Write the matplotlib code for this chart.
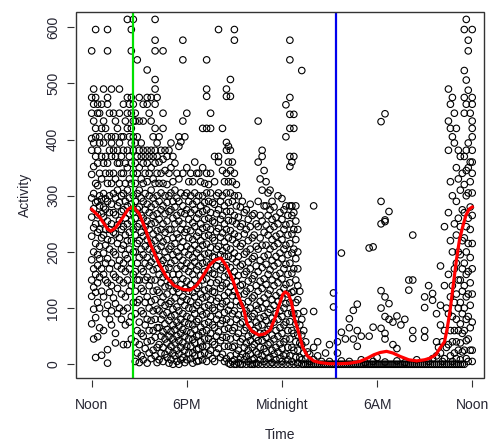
import matplotlib
matplotlib.use("Agg")
import matplotlib.pyplot as plt
from matplotlib.patches import Rectangle

plt.rcParams['font.family'] = ['Liberation Sans', 'DejaVu Sans']

# hours after noon for each column of points, and the activity values read in that column
pm_hours = [0.0, 0.125, 0.25, 0.375, 0.5, 0.625, 0.75, 0.875, 1.0, 1.125, 1.25, 1.375,
            1.5, 1.625, 1.75, 1.875, 2.0, 2.125, 2.25, 2.375, 2.5, 2.625, 2.75, 2.875,
            3.0, 3.125, 3.25, 3.375, 3.5, 3.625, 3.75, 3.875, 4.0, 4.125, 4.25, 4.375,
            4.5, 4.625, 4.75, 4.875, 5.0, 5.125, 5.25, 5.375, 5.5, 5.625, 5.75, 5.875]
pm_activity = [
    [558, 475, 447, 402, 381, 338, 296, 262, 228, 186, 150, 121, 72],
    [490, 463, 433, 394, 352, 304, 277, 243, 200, 170, 137, 98, 45],
    [596, 475, 420, 405, 370, 322, 288, 250, 215, 160, 128, 83, 12],
    [463, 447, 381, 358, 318, 290, 266, 235, 195, 176, 145, 110, 49],
    [447, 405, 394, 340, 300, 282, 240, 210, 188, 155, 100, 65],
    [463, 420, 370, 330, 294, 268, 252, 225, 170, 130, 16],
    [490, 433, 394, 358, 304, 280, 262, 230, 198, 160, 120, 60],
    [420, 370, 340, 295, 276, 240, 212, 180, 150, 90],
    [596, 558, 475, 463, 405, 358, 322, 290, 255, 222, 188, 145, 105, 26, 2],
    [447, 381, 340, 300, 270, 240, 205, 170, 128, 80],
    [490, 405, 394, 370, 322, 285, 250, 220, 180, 140, 95, 70],
    [447, 381, 340, 304, 270, 235, 200, 160, 118],
    [433, 405, 370, 330, 296, 266, 232, 195, 155, 108, 55, 38],
    [420, 381, 358, 310, 282, 248, 215, 175, 135, 90],
    [490, 447, 394, 358, 322, 288, 256, 225, 185, 150, 100],
    [405, 370, 340, 300, 272, 240, 205, 170, 125, 80],
    [463, 405, 381, 340, 304, 275, 245, 212, 180, 145, 95, 35],
    [433, 358, 322, 290, 260, 230, 195, 165, 120, 70],
    [614, 475, 447, 420, 381, 350, 310, 282, 250, 220, 188, 150, 100, 35],
    [463, 405, 370, 330, 296, 268, 235, 205, 170, 130, 75],
    [596, 558, 475, 447, 420, 394, 358, 322, 285, 255, 220, 180, 140, 85, 45],
    [614, 463, 433, 405, 381, 340, 300, 270, 240, 200, 160, 110],
    [447, 433, 394, 358, 322, 290, 260, 230, 200, 165, 130, 90, 40, 5],
    [542, 405, 370, 340, 304, 276, 245, 215, 180, 150, 110, 60, 20],
    [475, 433, 381, 350, 310, 280, 250, 220, 190, 150, 115, 75, 35, 3],
    [394, 370, 330, 296, 265, 235, 205, 170, 135, 95, 55, 15],
    [463, 433, 381, 358, 322, 290, 260, 228, 195, 165, 130, 90, 50, 8],
    [370, 340, 304, 275, 245, 210, 180, 150, 110, 70, 28],
    [524, 475, 463, 381, 358, 325, 285, 255, 222, 190, 155, 120, 80, 40, 2],
    [447, 370, 340, 300, 270, 240, 205, 175, 140, 100, 60, 20],
    [475, 433, 381, 350, 310, 280, 250, 215, 182, 150, 112, 78, 42, 10],
    [405, 370, 330, 296, 265, 232, 200, 168, 130, 95, 60, 25],
    [614, 577, 558, 507, 490, 463, 420, 381, 358, 322, 285, 252, 220, 188, 150, 115, 80, 48, 15],
    [475, 394, 370, 340, 300, 268, 238, 205, 170, 132, 98, 65, 30, 3],
    [405, 360, 322, 290, 258, 225, 192, 160, 128, 95, 65, 35, 8],
    [381, 340, 305, 275, 240, 210, 178, 145, 110, 80, 50, 20],
    [558, 447, 420, 365, 322, 282, 250, 218, 185, 155, 120, 88, 58, 30, 5],
    [381, 345, 300, 268, 235, 200, 170, 138, 105, 72, 45, 18],
    [370, 320, 288, 255, 222, 190, 158, 125, 92, 62, 38, 12],
    [381, 340, 300, 272, 240, 205, 172, 140, 108, 78, 50, 25, 2],
    [394, 350, 305, 275, 240, 210, 180, 145, 112, 85, 58, 32, 8],
    [370, 325, 290, 260, 225, 195, 160, 130, 98, 70, 45, 20, 0],
    [358, 310, 280, 250, 215, 185, 150, 118, 88, 62, 38, 15],
    [340, 296, 265, 232, 200, 170, 135, 102, 75, 50, 25, 5],
    [405, 388, 330, 290, 255, 225, 192, 160, 128, 95, 68, 42, 18, 0],
    [396, 305, 270, 240, 208, 175, 142, 112, 80, 55, 30, 8],
    [577, 542, 433, 340, 282, 250, 218, 185, 152, 120, 90, 62, 38, 12],
    [405, 300, 268, 235, 200, 170, 135, 105, 75, 50, 25, 3],
]

eve_hours = [6.0, 6.125, 6.25, 6.375, 6.5, 6.625, 6.75, 6.875, 7.0, 7.125, 7.25, 7.375,
             7.5, 7.625, 7.75, 7.875, 8.0, 8.125, 8.25, 8.375, 8.5, 8.625, 8.75, 8.875,
             9.0, 9.125, 9.25, 9.375, 9.5, 9.625, 9.75, 9.875, 10.0, 10.125, 10.25, 10.375,
             10.5, 10.625, 10.75, 10.875, 11.0, 11.125, 11.25, 11.375, 11.5, 11.625, 11.75, 11.875]
eve_activity = [
    [447, 350, 305, 275, 240, 210, 180, 148, 115, 85, 58, 32, 8],
    [325, 290, 258, 225, 195, 165, 130, 100, 72, 45, 20],
    [340, 300, 270, 238, 205, 175, 142, 112, 82, 56, 32, 10],
    [325, 285, 252, 222, 190, 160, 128, 98, 70, 44, 20, 2],
    [360, 305, 275, 245, 212, 182, 150, 120, 90, 62, 38, 15],
    [340, 290, 260, 228, 198, 168, 135, 105, 76, 50, 26, 5],
    [340, 300, 268, 235, 205, 175, 140, 110, 80, 52, 28, 6],
    [325, 282, 250, 220, 190, 158, 125, 95, 66, 40, 16],
    [420, 350, 300, 272, 242, 212, 180, 150, 118, 88, 58, 32, 8],
    [322, 288, 258, 228, 196, 165, 132, 102, 72, 45, 20],
    [542, 490, 477, 420, 340, 305, 275, 244, 214, 182, 152, 120, 90, 60, 32, 5],
    [320, 290, 260, 230, 198, 168, 135, 105, 75, 46, 18],
    [447, 420, 340, 305, 270, 240, 208, 178, 145, 115, 85, 55, 25],
    [288, 255, 225, 192, 162, 130, 100, 70, 40, 10],
    [370, 325, 285, 252, 220, 190, 160, 128, 96, 65, 35, 5],
    [300, 268, 236, 205, 175, 145, 112, 80, 50, 20],
    [596, 370, 360, 305, 275, 242, 210, 185, 150, 118, 88, 58, 28],
    [290, 258, 226, 195, 168, 135, 102, 72, 42, 12],
    [420, 345, 300, 265, 234, 202, 172, 140, 108, 78, 48, 18],
    [325, 282, 250, 218, 192, 156, 122, 92, 62, 32, 5],
    [490, 477, 395, 381, 340, 305, 272, 240, 208, 176, 144, 112, 80, 48, 10],
    [388, 360, 325, 288, 256, 225, 192, 160, 128, 96, 64, 32, 2],
    [507, 477, 381, 345, 305, 272, 238, 205, 172, 138, 105, 75, 45, 15, 0],
    [360, 325, 290, 255, 222, 188, 155, 122, 90, 60, 30, 5],
    [596, 577, 340, 300, 265, 232, 198, 165, 130, 95, 65, 32, 8, 0],
    [320, 282, 250, 215, 182, 148, 112, 80, 48, 18, 0],
    [300, 262, 228, 192, 158, 122, 88, 55, 25, 3],
    [280, 245, 210, 175, 140, 105, 72, 40, 12, 0],
    [290, 250, 215, 178, 142, 108, 75, 45, 18, 0],
    [270, 232, 196, 160, 125, 90, 60, 30, 8],
    [275, 240, 200, 165, 130, 95, 65, 38, 14, 0],
    [258, 220, 182, 148, 112, 80, 50, 25, 5],
    [285, 245, 205, 170, 135, 100, 70, 42, 18, 0],
    [265, 225, 188, 152, 118, 85, 55, 30, 8, 0],
    [268, 230, 192, 158, 122, 90, 60, 35, 10, 0],
    [250, 210, 175, 140, 105, 75, 48, 22, 2],
    [433, 360, 290, 245, 205, 165, 130, 98, 68, 42, 18, 0],
    [330, 265, 225, 185, 148, 112, 82, 55, 30, 8],
    [381, 370, 310, 255, 212, 172, 135, 100, 70, 42, 15, 0],
    [345, 282, 235, 192, 152, 118, 85, 55, 28, 5],
    [325, 282, 248, 212, 178, 142, 108, 78, 48, 22, 0],
    [305, 265, 230, 195, 160, 125, 92, 62, 35, 10],
    [310, 275, 240, 205, 168, 132, 98, 68, 38, 12, 0],
    [290, 258, 222, 185, 150, 115, 82, 52, 25, 3],
    [280, 245, 210, 175, 140, 105, 75, 45, 18, 0],
    [262, 228, 192, 158, 122, 90, 60, 30, 8],
    [300, 250, 215, 180, 145, 112, 80, 50, 22, 0],
    [270, 232, 198, 162, 128, 95, 65, 36, 10],
]

night_hours = [12.0, 12.125, 12.25, 12.375, 12.5, 12.625, 12.75, 12.875, 13.0, 13.125, 13.25, 13.375,
               13.5, 13.625, 13.75, 13.875, 14.0, 14.125, 14.25, 14.375, 14.5, 14.625, 14.75, 14.875,
               15.0, 15.125, 15.25, 15.375, 15.5, 15.625, 15.75, 15.875, 16.0, 16.125, 16.25, 16.375,
               16.5, 16.625, 16.75, 16.875, 17.0, 17.125, 17.25, 17.375, 17.5, 17.625, 17.75, 17.875]
night_activity = [
    [295, 258, 222, 188, 152, 118, 85, 55, 28, 5, 0],
    [275, 240, 205, 170, 135, 100, 70, 40, 15],
    [462, 405, 282, 248, 212, 178, 142, 108, 75, 45, 18, 0],
    [265, 230, 195, 160, 125, 90, 60, 30, 8],
    [577, 542, 475, 445, 420, 370, 352, 282, 250, 215, 180, 145, 110, 76, 45, 15, 0],
    [360, 282, 265, 232, 198, 162, 128, 92, 60, 30, 5],
    [445, 420, 370, 270, 240, 205, 170, 130, 90, 55, 25, 0],
    [282, 255, 222, 188, 150, 110, 72, 40, 12],
    [240, 200, 170, 140, 115, 90, 52, 25, 3, 0],
    [130, 70, 38, 12],
    [523, 80, 52, 35, 8, 0],
    [94, 60, 20, 0],
    [40, 10, 0],
    [22, 0],
    [18, 5, 0],
    [0],
    [282, 94, 30, 8, 0],
    [0],
    [40, 15, 0],
    [0],
    [5, 0],
    [0],
    [20, 0],
    [0],
    [35, 5, 0],
    [0],
    [127, 102, 0],
    [0],
    [40, 20, 0],
    [0],
    [198, 57, 6, 0],
    [0],
    [45, 0],
    [0],
    [81, 65, 5, 0],
    [0],
    [96, 45, 0],
    [0],
    [107, 60, 32, 0],
    [0],
    [50, 8, 0],
    [0],
    [3, 0],
    [0],
    [207, 50, 0],
    [0],
    [209, 66, 5, 0],
    [0],
]

am_hours = [18.0, 18.125, 18.25, 18.375, 18.5, 18.625, 18.75, 18.875, 19.0, 19.125, 19.25, 19.375,
            19.5, 19.625, 19.75, 19.875, 20.0, 20.125, 20.25, 20.375, 20.5, 20.625, 20.75, 20.875,
            21.0, 21.125, 21.25, 21.375, 21.5, 21.625, 21.75, 21.875, 22.0, 22.125, 22.25, 22.375,
            22.5, 22.625, 22.75, 22.875, 23.0, 23.125, 23.25, 23.375, 23.5, 23.625, 23.75, 23.875, 24.0]
am_activity = [
    [12, 0],
    [0],
    [432, 290, 250, 131, 100, 64, 0],
    [0],
    [446, 257, 254, 120, 85, 55, 45, 4, 0],
    [0],
    [272, 108, 80, 0],
    [0],
    [75, 35, 0],
    [0],
    [86, 28, 6, 0],
    [0],
    [70, 0],
    [0],
    [80, 3, 0],
    [0],
    [150, 132, 0],
    [0],
    [230, 150, 60, 46, 0],
    [0],
    [8, 0],
    [0],
    [0],
    [0],
    [120, 101, 60, 48, 0],
    [0],
    [140, 5, 0],
    [0],
    [126, 114, 10, 0],
    [0],
    [90, 40, 15, 0],
    [30, 0],
    [175, 105, 70, 20, 0],
    [40, 5, 0],
    [245, 140, 60, 10, 0],
    [100, 30, 0],
    [490, 433, 381, 270, 160, 90, 35, 0],
    [463, 420, 325, 220, 120, 60, 15, 0],
    [475, 405, 300, 200, 140, 85, 40, 5, 0],
    [447, 394, 250, 170, 110, 60, 20, 0],
    [420, 350, 290, 230, 180, 125, 80, 40, 10, 0],
    [381, 330, 260, 200, 150, 100, 60, 25, 0],
    [370, 310, 245, 195, 150, 110, 72, 38, 8, 0],
    [340, 275, 220, 170, 130, 90, 55, 22, 0],
    [596, 523, 475, 447, 370, 320, 270, 225, 180, 140, 100, 60, 25, 0],
    [614, 506, 463, 381, 345, 300, 245, 200, 160, 120, 80, 42, 10],
    [577, 558, 488, 394, 350, 305, 260, 215, 165, 125, 85, 45, 5],
    [447, 360, 325, 280, 240, 190, 145, 105, 65, 25],
    [596, 475, 463, 433, 420, 405, 381, 360, 340, 305, 265, 215, 170, 125, 75, 25, 5],
]

# smoothed trend (red line)
trend_hours = [0.0, 0.5, 1.0, 1.2, 1.5, 2.0, 2.3, 2.6, 3.0, 3.4, 3.7, 4.2, 4.7, 5.2, 5.8, 6.2,
               6.6, 6.9, 7.45, 7.8, 8.15, 8.5, 8.9, 9.2, 9.6, 9.8, 10.1, 10.55, 10.9, 11.25,
               11.6, 11.9, 12.05, 12.2, 12.4, 12.6, 12.8, 13.0, 13.3, 13.6, 14.0, 14.4, 15.0,
               15.7, 16.3, 16.9, 17.4, 17.8, 18.2, 18.6, 19.0, 19.45, 20.0, 20.5, 21.0, 21.35,
               21.7, 22.0, 22.25, 22.4, 22.6, 22.8, 23.0, 23.2, 23.4, 23.6, 23.8, 24.0]
trend_activity = [276, 262, 241, 237, 243, 263, 276, 281, 268, 240, 214, 182, 156, 140, 133, 132,
                  140, 152, 177, 186, 189, 175, 150, 125, 97, 72, 59, 52, 54, 61,
                  85, 112, 124, 129, 125, 110, 80, 62, 31, 15, 6, 3, 1,
                  1, 2, 5, 11, 17, 21, 23, 20, 14, 8, 6, 8, 11,
                  17, 30, 40, 60, 95, 140, 185, 222, 245, 265, 276, 280]

green_hour = 2.6
blue_hour = 15.4

tick_hours = [0, 6, 12, 18, 24]
tick_labels = ['Noon', '6PM', 'Midnight', '6AM', 'Noon']

xs, ys = [], []
for hours, cols in [(pm_hours, pm_activity), (eve_hours, eve_activity),
                    (night_hours, night_activity), (am_hours, am_activity)]:
    for h, vals in zip(hours, cols):
        for v in vals:
            xs.append(h)
            ys.append(v)

fig = plt.figure(figsize=(4.88, 4.42), dpi=100)
ax = fig.add_axes([0.1557, 0.1455, 0.836, 0.8267])

ax.scatter(xs, ys, s=22, facecolors='none', edgecolors='black', linewidths=0.8, zorder=2)
ax.plot(trend_hours, trend_activity, color='#ff0000', lw=2.3, zorder=3)
ax.axvline(green_hour, color='#00e000', lw=1.6, zorder=4)
ax.axvline(blue_hour, color='#0000ee', lw=1.6, zorder=4)

ax.set_xlim(-0.99, 24.74)
ax.set_ylim(-23.9, 626.7)

# box drawn separately, axes with ticks pushed out a bit (R style)
for s in ax.spines.values():
    s.set_visible(False)
ax.spines['left'].set_position(('outward', 1.5))
ax.spines['bottom'].set_position(('outward', 1.5))
ax.add_patch(Rectangle((0, 0), 1, 1, transform=ax.transAxes, fill=False,
                       edgecolor='#333333', lw=1.0, clip_on=False, zorder=5))

txt = '#262633'
ax.set_xticks(tick_hours)
ax.set_xticklabels(tick_labels)
ax.set_yticks([0, 100, 200, 300, 400, 500, 600])
ax.tick_params(axis='both', direction='out', length=5, width=0.8, color='#333333',
               labelsize=10, labelcolor=txt)
ax.tick_params(axis='x', pad=8)
ax.tick_params(axis='y', pad=5)
for lab in ax.get_yticklabels():
    lab.set_rotation(90)
    lab.set_va('center')

ax.set_xlabel('Time', fontsize=10, color=txt, labelpad=12)
ax.set_ylabel('Activity', fontsize=10, color=txt, labelpad=10)

fig.savefig('out.png', dpi=100)
